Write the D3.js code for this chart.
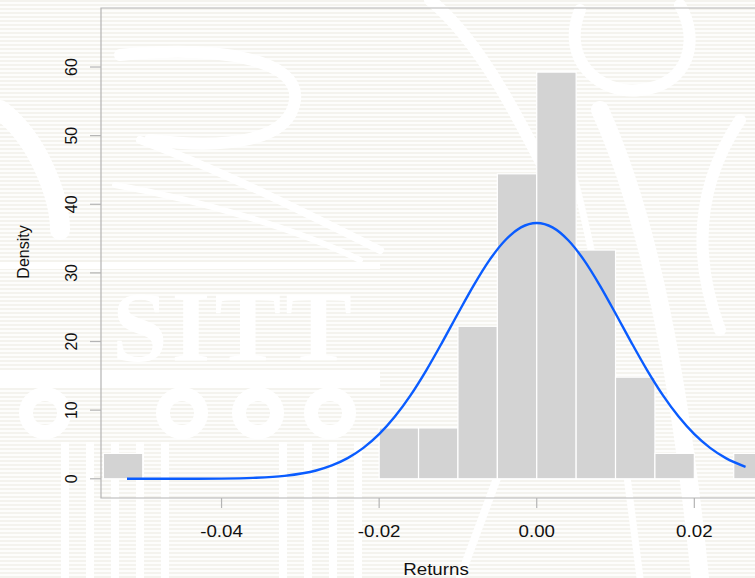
<!DOCTYPE html>
<html>
<head>
<meta charset="utf-8">
<script src="https://cdn.jsdelivr.net/npm/d3@7"></script>
<style>
  html, body { margin: 0; padding: 0; background: #fff; }
  svg { display: block; font-family: "Liberation Sans", Arial, sans-serif; }
</style>
</head>
<body>
<div id="chart"></div>
<script>
// histogram bins (bin start, density) - bin width 0.005
let binStarts = [-0.055, -0.050, -0.045, -0.040, -0.035, -0.030, -0.025, -0.020, -0.015, -0.010, -0.005, 0.000, 0.005, 0.010, 0.015, 0.020, 0.025];
let densities = [3.70, 0, 0, 0, 0, 0, 0, 7.41, 7.41, 22.22, 44.44, 59.26, 33.33, 14.81, 3.70, 0, 3.70];
let binWidth = 0.005;

// fitted normal curve
let curveX = [-0.052, -0.048, -0.044, -0.040, -0.036, -0.032, -0.028, -0.026, -0.024, -0.022, -0.020, -0.018, -0.016, -0.014, -0.012, -0.010, -0.008, -0.006, -0.004, -0.002, 0.000, 0.002, 0.004, 0.006, 0.008, 0.010, 0.012, 0.014, 0.016, 0.018, 0.020, 0.022, 0.024, 0.0265];
let curveY = [0.00, 0.00, 0.01, 0.03, 0.13, 0.43, 1.21, 1.95, 3.01, 4.50, 6.50, 9.06, 12.19, 15.84, 19.88, 24.09, 28.19, 31.86, 34.76, 36.64, 37.28, 36.64, 34.76, 31.86, 28.19, 24.09, 19.88, 15.84, 12.19, 9.06, 6.50, 4.50, 3.01, 1.75];

let xTicks = [-0.04, -0.02, 0.00, 0.02];
let yTicks = [0, 10, 20, 30, 40, 50, 60];

let W = 755, H = 578;
let svg = d3.select("#chart").append("svg")
    .attr("width", W)
    .attr("height", H);

// ---- faint striped watermark background ----
let defs = svg.append("defs");
let pat = defs.append("pattern")
    .attr("id", "stripes")
    .attr("width", 8).attr("height", 4)
    .attr("patternUnits", "userSpaceOnUse");
pat.append("rect").attr("width", 8).attr("height", 4).attr("fill", "#fdfdfc");
pat.append("rect").attr("width", 8).attr("height", 2).attr("fill", "#f4f3ee");

svg.append("rect").attr("width", W).attr("height", H).attr("fill", "url(#stripes)");

let wm = svg.append("g").attr("fill", "none").attr("stroke", "#fff").attr("stroke-linecap", "round");
// sweeping strokes of the seal
wm.append("path").attr("d", "M120,55 C220,45 300,60 295,100 C290,140 230,150 150,140").attr("stroke-width", 12);
wm.append("path").attr("d", "M140,140 C220,170 300,210 380,250").attr("stroke-width", 8);
wm.append("path").attr("d", "M115,185 C200,200 300,230 360,260").attr("stroke-width", 6);
wm.append("path").attr("d", "M0,110 C40,140 60,200 60,230").attr("stroke-width", 20);
wm.append("path").attr("d", "M430,0 C480,40 520,120 560,200").attr("stroke-width", 12);
wm.append("path").attr("d", "M580,10 C560,60 600,95 640,90 C690,85 700,40 680,5").attr("stroke-width", 12);
wm.append("path").attr("d", "M600,110 C650,220 680,380 700,578").attr("stroke-width", 18);
wm.append("path").attr("d", "M560,130 C600,250 620,420 640,578").attr("stroke-width", 7);
wm.append("path").attr("d", "M740,120 C700,180 690,250 720,330").attr("stroke-width", 12);
wm.append("path").attr("d", "M500,470 L460,578").attr("stroke-width", 8);

// horizontal bands
wm.append("rect").attr("x", 0).attr("y", 262).attr("width", 380).attr("height", 7).attr("fill", "#fff").attr("stroke", "none");
wm.append("rect").attr("x", 0).attr("y", 370).attr("width", 380).attr("height", 18).attr("fill", "#fff").attr("stroke", "none");

// "SITT" letters
svg.append("text")
    .attr("x", 112).attr("y", 360)
    .attr("fill", "#fff")
    .style("font-family", "'Liberation Serif', serif")
    .style("font-size", "100px")
    .style("font-weight", "bold")
    .style("letter-spacing", "4px")
    .text("SITT");

// ring row
let ringX = [45, 182, 258, 330];
svg.append("g").selectAll("circle").data(ringX).enter().append("circle")
    .attr("cx", d => d).attr("cy", 413).attr("r", 19)
    .attr("fill", "none").attr("stroke", "#fff").attr("stroke-width", 14);

// vertical bars bottom-left
let barsX = [65, 90, 115, 140, 165, 283, 308, 333, 358];
svg.append("g").selectAll("rect").data(barsX).enter().append("rect")
    .attr("x", d => d - 4).attr("y", 442).attr("width", 8).attr("height", H - 442)
    .attr("fill", "#fff");

// ---- chart ----
let x = d3.scaleLinear().domain([-0.0553, 0.0277]).range([101, 755]);
let y = d3.scaleLinear().domain([-2.8, 68.6]).range([498, 8]);

let bins = binStarts.map((b, i) => ({ x0: b, x1: b + binWidth, d: densities[i] }))
    .filter(b => b.d > 0);

svg.append("g").selectAll("rect")
    .data(bins)
    .enter()
    .append("rect")
    .attr("x", d => x(d.x0))
    .attr("y", d => y(d.d))
    .attr("width", d => x(d.x1) - x(d.x0))
    .attr("height", d => y(0) - y(d.d))
    .attr("fill", "#d3d3d3")
    .attr("stroke", "#fff")
    .attr("stroke-width", 1.2);

let line = d3.line()
    .x((d, i) => x(curveX[i]))
    .y(d => y(d))
    .curve(d3.curveMonotoneX);

svg.append("path")
    .datum(curveY)
    .attr("d", line)
    .attr("fill", "none")
    .attr("stroke", "#0a5cff")
    .attr("stroke-width", 2.4);

// box
let axisColor = "#b4b4b4";
svg.append("path")
    .attr("d", `M${W + 2},8 H101 V498 H${W + 2}`)
    .attr("fill", "none")
    .attr("stroke", axisColor)
    .attr("stroke-width", 1.2);

// y axis ticks + labels
let yAxis = svg.append("g");
yAxis.selectAll("line").data(yTicks).enter().append("line")
    .attr("x1", 90).attr("x2", 101)
    .attr("y1", d => y(d)).attr("y2", d => y(d))
    .attr("stroke", axisColor).attr("stroke-width", 1.2);
yAxis.selectAll("text").data(yTicks).enter().append("text")
    .attr("transform", d => `translate(77,${y(d)}) rotate(-90)`)
    .attr("text-anchor", "middle")
    .style("font-size", "16px")
    .attr("fill", "#111")
    .text(d => d);

// x axis ticks + labels
let xAxis = svg.append("g");
xAxis.selectAll("line").data(xTicks).enter().append("line")
    .attr("x1", d => x(d)).attr("x2", d => x(d))
    .attr("y1", 498).attr("y2", 508)
    .attr("stroke", axisColor).attr("stroke-width", 1.2);
xAxis.selectAll("text").data(xTicks).enter().append("text")
    .attr("transform", d => `translate(${x(d)},537) scale(1.17,1)`)
    .attr("text-anchor", "middle")
    .style("font-size", "16px")
    .attr("fill", "#111")
    .text(d => d3.format(".2f")(d).replace("\u2212", "-"));

// axis titles
svg.append("text")
    .attr("transform", "translate(436,575) scale(1.17,1)")
    .attr("text-anchor", "middle")
    .style("font-size", "16px")
    .attr("fill", "#111")
    .text("Returns");

svg.append("text")
    .attr("transform", "translate(29,252) rotate(-90)")
    .attr("text-anchor", "middle")
    .style("font-size", "16px")
    .attr("fill", "#111")
    .text("Density");
</script>
</body>
</html>
